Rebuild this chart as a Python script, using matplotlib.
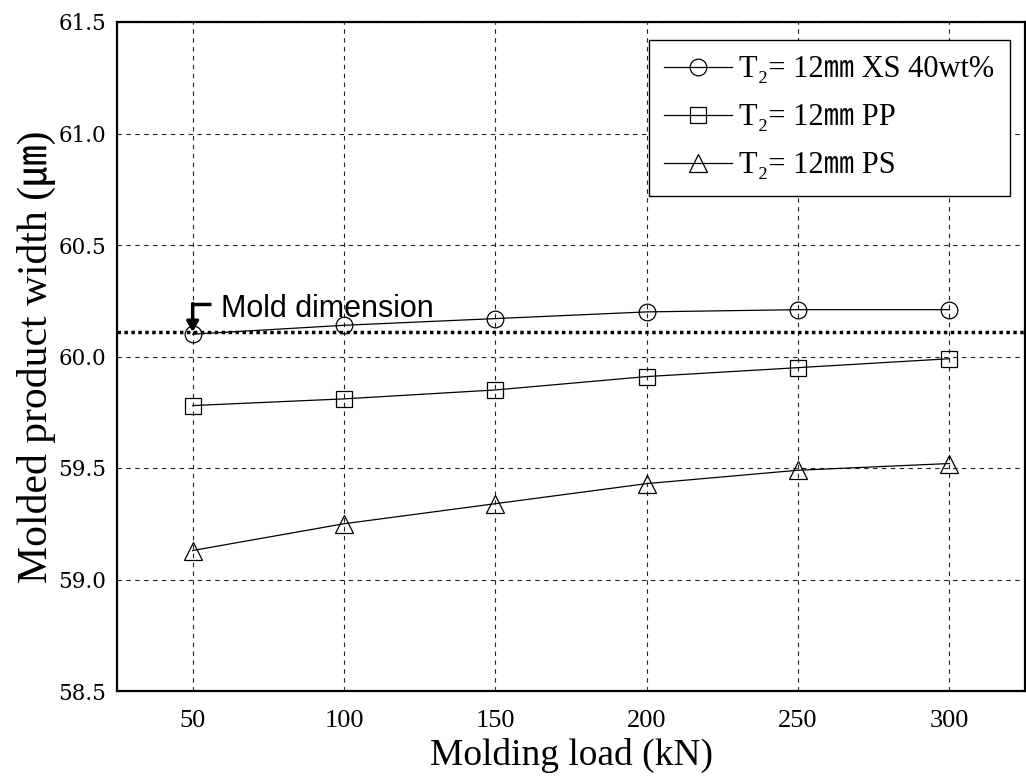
import numpy as np
import matplotlib
matplotlib.use('Agg')
import matplotlib.pyplot as plt

# 数据
load = [50, 100, 150, 200, 250, 300]
xs40 = [60.10, 60.14, 60.17, 60.20, 60.21, 60.21]
pp = [59.78, 59.81, 59.85, 59.91, 59.95, 59.99]
ps = [59.13, 59.25, 59.34, 59.43, 59.49, 59.52]
labels = ['T\u2082= 12\u339c XS 40wt%', 'T\u2082= 12\u339c PP', 'T\u2082= 12\u339c PS']
mold = 60.11
yticks = [58.5, 59.0, 59.5, 60.0, 60.5, 61.0, 61.5]

serif = ['Liberation Serif', 'Noto Sans CJK KR', 'DejaVu Serif']
plt.rcParams['font.family'] = serif

fig = plt.figure(figsize=(10.26, 7.81), dpi=100)
ax = fig.add_axes([117 / 1026, 1 - 691 / 781, 908 / 1026, 669 / 781])

mk = dict(color='black', lw=0.9, mfc='none', mec='black', mew=0.9)
ax.plot(load, xs40, marker='o', ms=12, label=labels[0], **mk)
ax.plot(load, pp, marker='s', ms=11.5, label=labels[1], **mk)
ax.plot(load, ps, marker='^', ms=13, label=labels[2], **mk)

# 模具尺寸线
ax.axhline(mold, color='black', lw=2.5, ls=(0, (1, 1)))
ax.plot([load[0], load[0] + 6], [mold + 0.125, mold + 0.125], color='black', lw=2.5,
        solid_capstyle='butt')
ax.annotate('', xy=(load[0], mold), xytext=(load[0], mold + 0.127),
            arrowprops=dict(arrowstyle='-|>,head_width=0.35,head_length=0.6',
                            color='black', lw=2.5, shrinkA=0, shrinkB=0))
ax.text(load[0] + 9.2, mold + 0.068, 'Mold dimension', family='Liberation Sans',
        fontsize=22, va='baseline')

ax.set_xlim(25, 325)
ax.set_ylim(58.5, 61.5)
ax.set_xticks(load)
ax.set_yticks(yticks)
ax.set_yticklabels(['%.1f' % v for v in yticks], family='DejaVu Serif', fontsize=15.5)
ax.tick_params(axis='x', labelsize=19, length=0, pad=14)
ax.tick_params(axis='y', length=0, pad=8)
ax.grid(True, color='#222222', lw=0.8, ls=(0, (4, 4)))
for s in ax.spines.values():
    s.set_linewidth(1.6)

ax.set_xlabel('Molding load (kN)', fontsize=27, labelpad=4)
ax.set_ylabel('Molded product width (\u339b)', fontsize=30, labelpad=1)

leg = ax.legend(loc='upper right', bbox_to_anchor=(0.983, 0.973), borderaxespad=0,
                fontsize=22, fancybox=False, edgecolor='black', framealpha=1,
                handlelength=2.2, handletextpad=0.25, labelspacing=0.62, borderpad=0.5)
leg.get_frame().set_linewidth(1.0)

plt.savefig('out.png', dpi=100)
